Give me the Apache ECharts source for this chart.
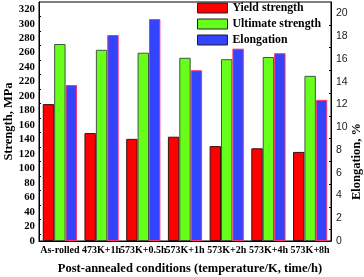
<!DOCTYPE html>
<html><head><meta charset="utf-8">
<script src="https://cdn.jsdelivr.net/npm/echarts@6/dist/echarts.min.js"></script>
<style>html,body{margin:0;padding:0;background:#fff}#c{width:364px;height:277px}</style>
</head><body><div id="c"></div>
<script>
var categories = ['As-rolled','473K+1h','573K+0.5h','573K+1h','573K+2h','573K+4h','573K+8h'];
var yieldStrength = [189, 149, 141, 144, 131, 128, 123];
var ultimateStrength = [272, 264, 260, 253, 251, 254, 228];
var elongation = [13.7, 18.1, 19.5, 15.0, 16.9, 16.5, 12.4];
var leftTicks = [0,20,40,60,80,100,120,140,160,180,200,220,240,260,280,300,320];
var rightTicks = [0,2,4,6,8,10,12,14,16,18,20];

var serif = '"Liberation Serif","Times New Roman",serif';
var chart = echarts.init(document.getElementById('c'), null, {renderer:'canvas'});
chart.setOption({
  animation:false,
  grid:{left:39, right:33, top:2, bottom:36, containLabel:false, outerBoundsMode:'none',
        show:true, borderColor:'#000', borderWidth:1, backgroundColor:'transparent'},
  legend:{
    orient:'vertical', left:192, top:-3, itemWidth:30, itemHeight:10, itemGap:4, icon:'rect',
    itemStyle:{borderColor:'#222', borderWidth:1},
    textStyle:{fontFamily:serif, fontWeight:'bold', fontSize:11.8, color:'#000'},
    data:['Yield strength','Ultimate strength','Elongation']
  },
  xAxis:{
    type:'category', data:categories,
    axisLine:{lineStyle:{color:'#000'}},
    axisTick:{inside:true, length:3, lineStyle:{color:'#000'}},
    axisLabel:{interval:0, margin:4, fontFamily:serif, fontWeight:'bold', fontSize:10, color:'#000'},
    name:'Post-annealed conditions (temperature/K, time/h)', nameLocation:'middle', nameGap:21,
    nameMoveOverlap:false,
    nameTextStyle:{fontFamily:serif, fontWeight:'bold', fontSize:12.5, color:'#000', padding:[0,0,0,10]}
  },
  yAxis:[{
    type:'value', min:0, max:330, interval:20, position:'left',
    axisLine:{show:true, lineStyle:{color:'#000'}},
    axisTick:{inside:true, length:4, lineStyle:{color:'#000'}},
    minorTick:{show:true, splitNumber:2, length:2, lineStyle:{color:'#000'}},
    splitLine:{show:false},
    axisLabel:{showMaxLabel:false, margin:4, fontFamily:serif, fontWeight:'bold', fontSize:10.8, color:'#000',
      formatter:function(v){return leftTicks.indexOf(v)>=0 ? String(v) : '';}},
    name:'Strength, MPa', nameLocation:'middle', nameGap:24, nameMoveOverlap:false,
    nameTextStyle:{fontFamily:serif, fontWeight:'bold', fontSize:12.5, color:'#000'}
  },{
    type:'value', min:0, max:21, interval:2, position:'right',
    axisLine:{show:true, lineStyle:{color:'#000'}},
    axisTick:{inside:true, length:4, lineStyle:{color:'#000'}},
    minorTick:{show:true, splitNumber:2, length:2, lineStyle:{color:'#000'}},
    splitLine:{show:false},
    axisLabel:{showMaxLabel:false, margin:5, fontFamily:'"Liberation Sans",Arial,sans-serif', fontSize:10.5, color:'#222',
      formatter:function(v){return rightTicks.indexOf(v)>=0 ? String(v) : '';}},
    name:'Elongation, %', nameLocation:'middle', nameGap:19, nameMoveOverlap:false,
    nameTextStyle:{fontFamily:serif, fontWeight:'bold', fontSize:12.5, color:'#000', padding:[0,80,0,0]}
  }],
  series:[
    {name:'Yield strength', type:'bar', yAxisIndex:0, data:yieldStrength, barGap:'0%', barCategoryGap:'18%',
     itemStyle:{color:'#ff0000', borderColor:'#3a1010', borderWidth:1}},
    {name:'Ultimate strength', type:'bar', yAxisIndex:0, data:ultimateStrength, barGap:'0%', barCategoryGap:'18%',
     itemStyle:{color:'#66ff1a', borderColor:'#445544', borderWidth:1}},
    {name:'Elongation', type:'bar', yAxisIndex:1, data:elongation, barGap:'0%', barCategoryGap:'18%',
     itemStyle:{color:'#3344ff', borderColor:'#ff3366', borderWidth:1}}
  ]
});
</script></body></html>
